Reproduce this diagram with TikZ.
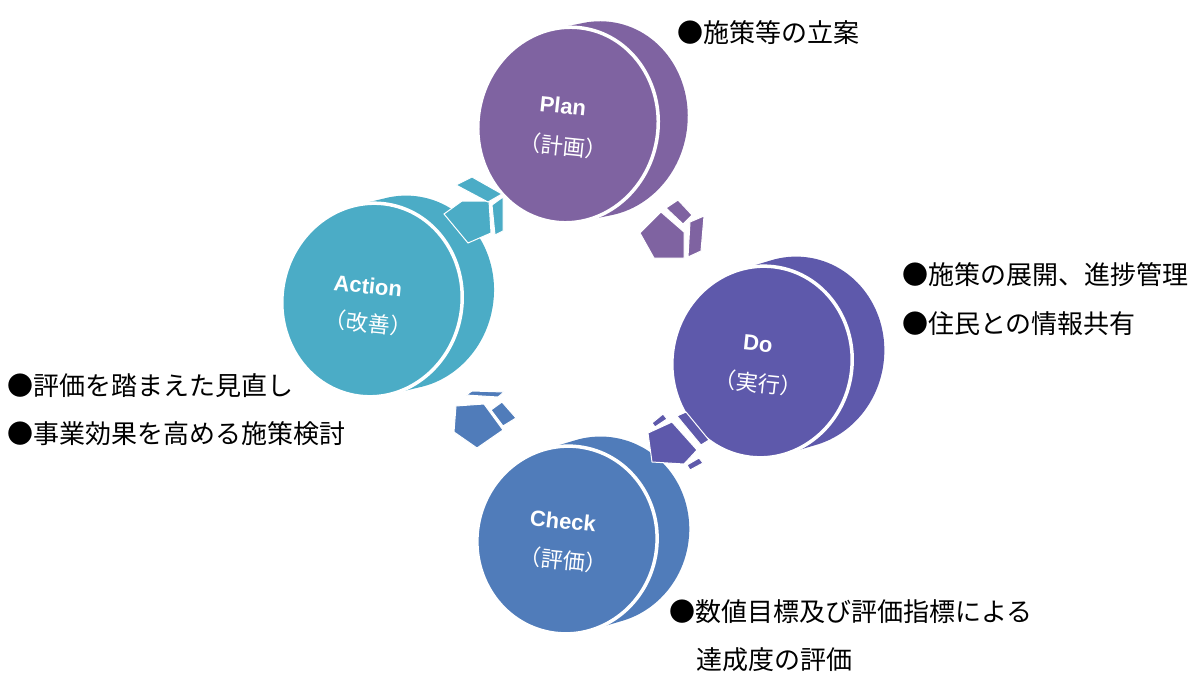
\documentclass[tikz,border=0pt]{standalone}
\usepackage{fontspec}
\setmainfont{Noto Sans CJK JP}
\newfontfamily\latfont{Liberation Sans}
\definecolor{cplan}{HTML}{7F63A1}
\definecolor{cdo}{HTML}{5E59AB}
\definecolor{ccheck}{HTML}{507CBA}
\definecolor{caction}{HTML}{4BACC6}
\newcommand\mydisc[8]{%
  \begin{scope}[shift={(#1,#2)}, rotate=#8]
    \fill[#7] \foreach \k in {0,...,30}{ ({\k/30*(#5)},{\k/30*(#6)}) ellipse [x radius=#3, y radius=#4] };
    \fill[#7, draw=white, line width=3.5pt] (0,0) ellipse [x radius=#3, y radius=#4];
  \end{scope}%
}
\tikzset{
  lat/.style={text=white, font=\latfont\bfseries\fontsize{22}{24}\selectfont, inner sep=0pt, rotate=-6},
  jpn/.style={text=white, font=\fontsize{22}{24}\selectfont, inner sep=0pt, rotate=-6},
  bul/.style={anchor=west, inner sep=0pt, text=black, font=\fontsize{26}{28}\selectfont},
  arr/.style={draw=white, line width=1pt, line join=miter}
}
\begin{document}
\begin{tikzpicture}[x=1pt, y=-1pt]
\useasboundingbox (0,0) rectangle (1200,677);
% discs
\mydisc{568}{125}{90}{98}{28}{-11}{cplan}{-10}
\mydisc{762}{362}{90}{96}{30}{-15}{cdo}{-10}
\mydisc{372}{300}{90}{97}{30}{-13}{caction}{-10}
\mydisc{567}{540}{90}{94}{30}{-15}{ccheck}{-10}
% disc labels
\node[lat] (plan) at (563,106) {Plan};
\node[jpn] (planj) at (563,146) {（計画）};
\node[lat] (do) at (758,344) {Do};
\node[jpn] (doj) at (758,383) {（実行）};
\node[lat] (action) at (368,286) {Action};
\node[jpn] (actionj) at (368,323) {（改善）};
\node[lat] (check) at (563,521) {Check};
\node[jpn] (checkj) at (563,560) {（評価）};
% arrow Action -> Plan
\fill[caction, arr] (444,214) -- (462,201) -- (489,201) -- (491,233) -- (468,243) -- cycle;
\fill[caction, arr] (456,185) -- (472,177) -- (502,194) -- (488,202) -- cycle;
\fill[caction, arr] (492,205) -- (503,197) -- (503,231) -- (495,235) -- cycle;
% arrow Plan -> Do
\fill[cplan, arr] (640,233) -- (661,212) -- (684,232) -- (684,258) -- (654,258) -- cycle;
\fill[cplan, arr] (666,208) -- (678,200) -- (692,215) -- (683,224) -- cycle;
\fill[cplan, arr] (690,222) -- (704,216) -- (701,251) -- (688,257) -- cycle;
% arrow Do -> Check
\fill[cdo, arr] (648,433) -- (672,422) -- (697,450) -- (684,464) -- (652,462) -- cycle;
\fill[cdo, arr] (652,423) -- (663,414) -- (667,419) -- (655,427) -- cycle;
\fill[cdo, arr] (677,416) -- (686,412) -- (709,440) -- (701,445) -- cycle;
\fill[cdo, arr] (687,465) -- (699,458) -- (703,463) -- (690,470) -- cycle;
% arrow Check -> Action
\fill[ccheck, arr] (456,406) -- (484,404) -- (503,430) -- (477,448) -- (454,432) -- cycle;
\fill[ccheck, arr] (466,395) -- (472,391) -- (504,392) -- (498,397) -- cycle;
\fill[ccheck, arr] (491,410) -- (502,402) -- (516,418) -- (503,426) -- cycle;
% bullet texts
\node[bul] (t1) at (677,33) {●施策等の立案};
\node[bul] (t2) at (902,275) {●施策の展開、進捗管理};
\node[bul] (t3) at (902,324) {●住民との情報共有};
\node[bul] (t4) at (7,386) {●評価を踏まえた見直し};
\node[bul] (t5) at (7,434) {●事業効果を高める施策検討};
\node[bul] (t6) at (669,612) {●数値目標及び評価指標による};
\node[bul] (t7) at (696,660) {達成度の評価};
\end{tikzpicture}
\end{document}
